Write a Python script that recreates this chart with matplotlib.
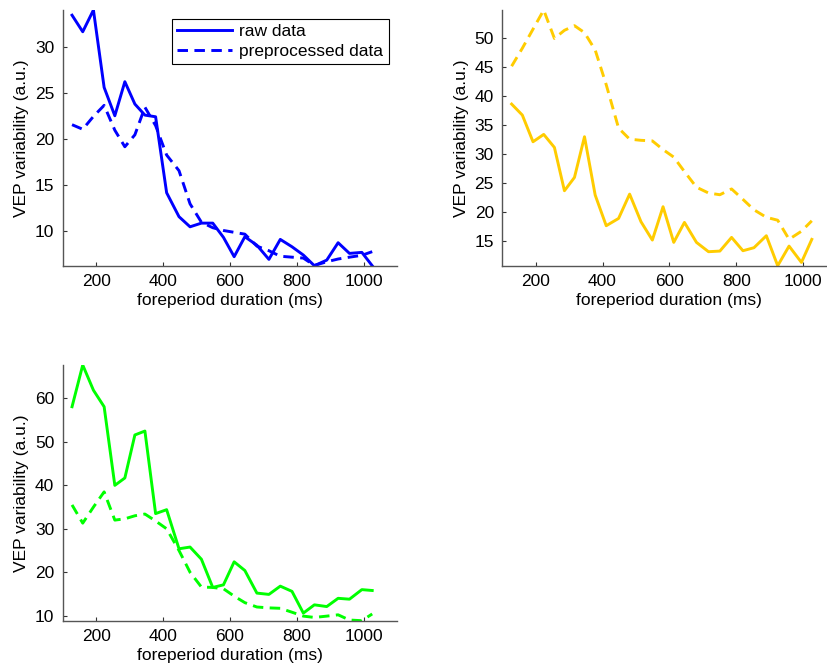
import matplotlib.pyplot as plt
import numpy as np

plt.rcParams['font.family'] = ['Liberation Sans', 'DejaVu Sans']

# foreperiod durations (ms)
x = [128, 160, 192, 224, 256, 286, 316, 346, 378, 411, 448, 481, 515, 549,
     581, 613, 645, 681, 717, 751, 786, 820, 853, 890, 924, 958, 995, 1026]

blue_raw = [33.5, 31.7, 34.06, 25.65, 22.57, 26.27, 23.84, 22.64, 22.46, 14.2,
            11.6, 10.5, 10.9, 10.9, 9.35, 7.25, 9.42, 8.5, 6.96, 9.13,
            8.33, 7.43, 6.27, 6.88, 8.77, 7.61, 7.72, 6.27]
blue_pre = [21.6, 21.1, 22.5, 23.7, 21.0, 19.2, 20.5, 23.5, 21.5, 18.3,
            16.6, 13.0, 11.0, 10.4, 10.1, 9.9, 9.7, 8.4, 7.9, 7.3,
            7.2, 7.1, 6.3, 6.7, 7.0, 7.2, 7.4, 7.8]

yellow_raw = [38.66, 36.76, 32.15, 33.42, 31.17, 23.69, 25.99, 33.02, 22.94, 17.65,
              18.91, 23.11, 18.34, 15.17, 20.93, 14.77, 18.22, 14.77, 13.16, 13.27,
              15.63, 13.33, 13.85, 15.92, 10.74, 14.13, 11.31, 15.29]
yellow_pre = [45.2, 48.3, 51.6, 54.9, 50.0, 51.4, 52.2, 51.0, 48.0, 42.0,
              34.5, 32.6, 32.4, 32.3, 30.8, 29.5, 27.0, 24.3, 23.3, 23.0,
              24.0, 22.2, 20.4, 19.1, 18.6, 15.3, 16.7, 18.5]

green_raw = [58.1, 67.7, 61.9, 58.1, 40.0, 41.7, 51.6, 52.5, 33.5, 34.4,
             25.4, 25.8, 23.0, 16.5, 17.1, 22.4, 20.4, 15.2, 14.9, 16.8,
             15.6, 10.6, 12.5, 12.1, 14.0, 13.8, 16.0, 15.8]
green_pre = [35.5, 31.3, 35.0, 38.5, 32.0, 32.3, 33.0, 33.4, 31.8, 30.0,
             25.0, 20.0, 16.6, 16.5, 16.2, 14.5, 13.0, 12.0, 11.8, 11.7,
             10.8, 9.9, 9.6, 9.9, 10.2, 9.0, 8.85, 10.4]

xticks = [200, 400, 600, 800, 1000]

fig = plt.figure(figsize=(8.28, 6.70), dpi=100)

panels = [
    ([0.0757, 0.6034, 0.4037, 0.3816], blue_raw, blue_pre, '#0000ff', [10, 15, 20, 25, 30], True),
    ([0.6066, 0.6034, 0.4037, 0.3816], yellow_raw, yellow_pre, '#ffcc00', [15, 20, 25, 30, 35, 40, 45, 50], False),
    ([0.0757, 0.0736, 0.4037, 0.3816], green_raw, green_pre, '#00ff00', [10, 20, 30, 40, 50, 60], False),
]

fs = 12.5

for rect, raw, pre, col, yticks, show_leg in panels:
    ax = fig.add_axes(rect)
    ax.plot(x, raw, '-', color=col, lw=2.1, label='raw data')
    ax.plot(x, pre, '--', color=col, lw=2.1, dashes=(3.6, 2.2), label='preprocessed data')
    ax.set_xlim(100, 1100)
    lo = min(min(raw), min(pre))
    hi = max(max(raw), max(pre))
    ax.set_ylim(lo, hi)
    ax.set_xticks(xticks)
    ax.set_yticks(yticks)
    ax.tick_params(direction='in', length=3, width=0.8, labelsize=fs, color='#333333', pad=6)
    for s in ['top', 'right']:
        ax.spines[s].set_visible(False)
    for s in ['left', 'bottom']:
        ax.spines[s].set_color('#555555')
        ax.spines[s].set_linewidth(1.0)
    ax.set_xlabel('foreperiod duration (ms)', fontsize=fs, labelpad=3)
    ax.set_ylabel('VEP variability (a.u.)', fontsize=fs, labelpad=4)
    if show_leg:
        leg = ax.legend(loc='upper right', bbox_to_anchor=(0.975, 0.965), fontsize=fs,
                        fancybox=False, edgecolor='black', framealpha=1,
                        handlelength=3.2, borderpad=0.3, labelspacing=0.25,
                        handletextpad=0.4, borderaxespad=0)
        leg.get_frame().set_linewidth(0.8)

plt.savefig('out.png', dpi=100)
